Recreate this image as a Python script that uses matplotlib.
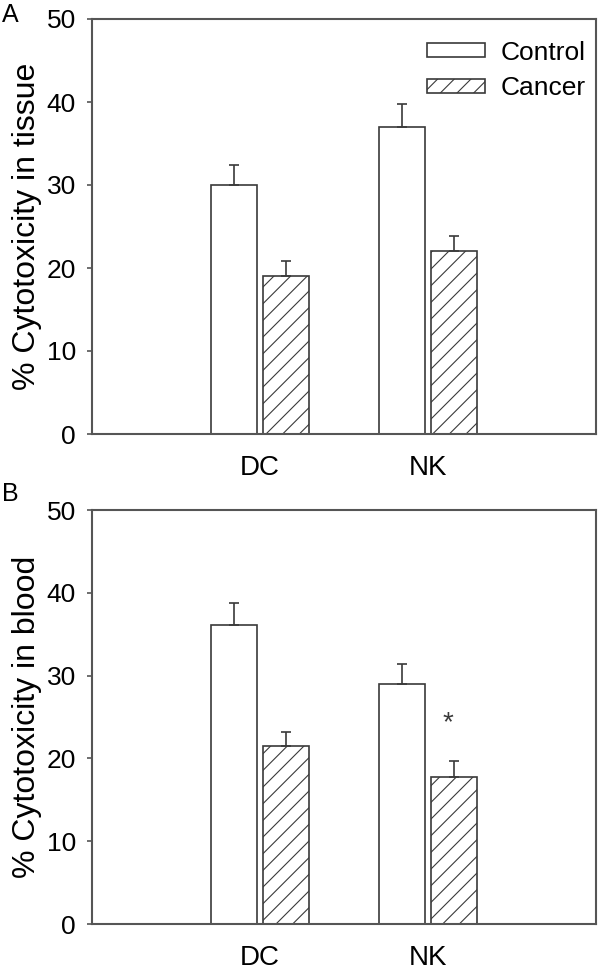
import numpy as np
import matplotlib
matplotlib.use('Agg')
import matplotlib.pyplot as plt
from matplotlib.patches import Patch

plt.rcParams['font.family'] = ['Liberation Sans', 'DejaVu Sans']
plt.rcParams['hatch.linewidth'] = 0.8
plt.rcParams['hatch.color'] = '#555555'

categories = ['DC', 'NK']
groups = ['Control', 'Cancer']

tissue_control = [30.0, 37.0]
tissue_control_err = [2.4, 2.8]
tissue_cancer = [19.0, 22.0]
tissue_cancer_err = [1.9, 1.9]

blood_control = [36.1, 29.0]
blood_control_err = [2.7, 2.4]
blood_cancer = [21.5, 17.8]
blood_cancer_err = [1.7, 1.9]

edge = '#3a3a3a'
spine = '#555555'


def draw_panel(ax, control, control_err, cancer, cancer_err, ylabel):
    x = np.arange(1, len(categories) + 1)
    w = 0.274
    off = 0.152
    ekw = dict(ecolor=edge, elinewidth=1.2, capsize=3.9, capthick=1.2)
    ax.bar(x - off, control, w, color='white', edgecolor=edge, linewidth=1.2,
           yerr=[np.zeros(len(control)), control_err], error_kw=ekw)
    ax.bar(x + off, cancer, w, color='white', edgecolor=edge, linewidth=1.2, hatch='//',
           yerr=[np.zeros(len(cancer)), cancer_err], error_kw=ekw)
    ax.set_xlim(0, 3)
    ax.set_ylim(0, 50)
    ax.set_xticks(x)
    ax.set_xticklabels(categories)
    ax.set_yticks([0, 10, 20, 30, 40, 50])
    ax.tick_params(axis='x', length=0, pad=15, labelsize=20)
    ax.tick_params(axis='y', direction='out', length=3.6, width=1.2, pad=8,
                   labelsize=19, color=spine)
    for s in ax.spines.values():
        s.set_color(spine)
        s.set_linewidth(1.5)
    ax.set_ylabel(ylabel, fontsize=23)
    ax.yaxis.set_label_coords(-0.1, 0.5)


fig = plt.figure(figsize=(6, 9.69), dpi=100)
ax1 = fig.add_axes([0.1533, 1 - 434 / 969, 0.84, 415 / 969])
ax2 = fig.add_axes([0.1533, 1 - 924 / 969, 0.84, 414 / 969])

draw_panel(ax1, tissue_control, tissue_control_err, tissue_cancer, tissue_cancer_err,
           '% Cytotoxicity in tissue')
draw_panel(ax2, blood_control, blood_control_err, blood_cancer, blood_cancer_err,
           '% Cytotoxicity in blood')

handles = [Patch(facecolor='white', edgecolor=edge, linewidth=1.2),
           Patch(facecolor='white', edgecolor=edge, linewidth=1.2, hatch='//')]
ax1.legend(handles, groups, loc='upper left', frameon=False, fontsize=19,
           handlelength=2.2, handleheight=0.45, handletextpad=0.6,
           labelspacing=0.45, borderpad=0, borderaxespad=0,
           bbox_to_anchor=(0.665, 0.948))

# significance marker over NK cancer (blood)
ax2.text(2.12, 24.3, '*', ha='center', va='center', fontsize=20, color=edge)

fig.text(0.004, 0.997, 'A', ha='left', va='top', fontsize=18)
fig.text(0.004, 1 - 482 / 969, 'B', ha='left', va='top', fontsize=18)

fig.savefig('out.png', dpi=100)
